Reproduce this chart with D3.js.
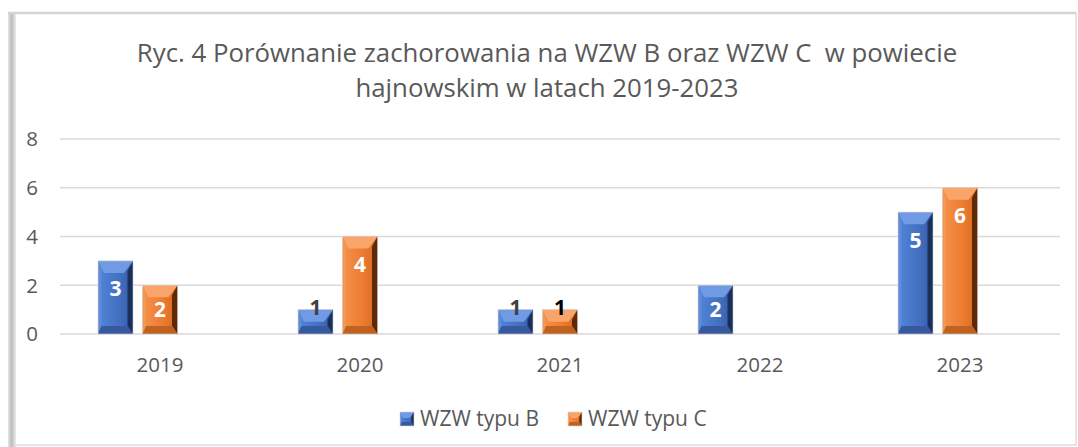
<html><head>
<title>Ryc. 4 WZW B i C</title>
<script src="https://d3js.org/d3.v7.min.js"></script>
<style>
  body { margin: 0; background: #fff; }
  text { font-family: "Open Sans", sans-serif; }
</style>
</head>
<body>
<svg id="chart" width="1078" height="447"></svg>
<script>

// data
const years = ["2019", "2020", "2021", "2022", "2023"];
const series = ["WZW typu B", "WZW typu C", "(pusta)"];   // third series is empty in the original
const wzwB = [3, 1, 1, 2, 5];
const wzwC = [2, 4, 1, null, 6];
const wzwEmpty = [null, null, null, null, null];
const yTicks = [0, 2, 4, 6, 8];
const titleLines = ["Ryc. 4 Porównanie zachorowania na WZW B oraz WZW C  w powiecie",
                    "hajnowskim w latach 2019-2023"];

const values = [wzwB, wzwC, wzwEmpty];

// colours for the bevelled bars
const palette = [
  { face: ["#5384d8", "#4472c4", "#345ca6"], top: "#709ae4", left: "#5f8bdb", right: "#1a2f5c", bottom: "#35599c", label: "#404040" },
  { face: ["#f4914c", "#ed7d31", "#d56a22"], top: "#f9a56a", left: "#f59652", right: "#5e2a06", bottom: "#c0621f", label: "#000" },
  { face: ["#a5a5a5", "#a5a5a5", "#a5a5a5"], top: "#ccc", left: "#bbb", right: "#666", bottom: "#888", label: "#000" }
];

const svg = d3.select("#chart");
const margin = {top: 139, left: 60, right: 18, bottom: 113};
const width = +svg.attr("width");
const height = +svg.attr("height");
const plotW = width - margin.left - margin.right;   // 1000
const plotH = height - margin.top - margin.bottom;  // 195

// gradients
const defs = svg.append("defs");
palette.forEach((p, i) => {
  let g = defs.append("linearGradient").attr("id", "face" + i)
    .attr("x1", 0).attr("x2", 1).attr("y1", 0).attr("y2", 0);
  g.append("stop").attr("offset", "0%").attr("stop-color", p.face[0]);
  g.append("stop").attr("offset", "55%").attr("stop-color", p.face[1]);
  g.append("stop").attr("offset", "100%").attr("stop-color", p.face[2]);
});
let sh = defs.append("linearGradient").attr("id", "frameShadow")
  .attr("x1", 0).attr("x2", 1).attr("y1", 0).attr("y2", 0);
sh.append("stop").attr("offset", "0%").attr("stop-color", "#e6e6e6");
sh.append("stop").attr("offset", "45%").attr("stop-color", "#bdbdbd");
sh.append("stop").attr("offset", "100%").attr("stop-color", "#ececec");

// frame around the picture
svg.append("rect")
  .attr("x", 12).attr("y", 13).attr("width", 1064).attr("height", 432)
  .attr("fill", "#fff").attr("stroke", "#dcdcdc").attr("stroke-width", 1.5);
svg.append("rect")
  .attr("x", 8).attr("y", 13).attr("width", 8).attr("height", 434)
  .attr("fill", "url(#frameShadow)");
svg.append("line")
  .attr("x1", 8).attr("x2", 1076).attr("y1", 13).attr("y2", 13)
  .attr("stroke", "#d4d4d4").attr("stroke-width", 2.5);

// title
svg.append("text")
  .attr("class", "title")
  .attr("xml:space", "preserve")
  .attr("text-anchor", "middle")
  .style("font-size", "25.8px").style("fill", "#595959")
  .selectAll("tspan").data(titleLines).join("tspan")
    .attr("x", 547).attr("y", (d, i) => 62 + i * 35)
    .text(d => d);

// scales
const x = d3.scaleBand().domain(years).range([0, plotW]).padding(0);
const xInner = d3.scaleBand().domain(series).range([38, 162]).paddingInner(0.213).paddingOuter(0);
const y = d3.scaleLinear().domain([0, 8]).range([plotH, 0]);

const chart = svg.append("g")
  .attr("transform", "translate(" + margin.left + "," + margin.top + ")");

// gridlines
chart.append("g").attr("class", "gridlines")
  .selectAll("line").data(yTicks).join("line")
    .attr("x1", 0).attr("x2", plotW)
    .attr("y1", d => y(d)).attr("y2", d => y(d))
    .attr("stroke", "#d9d9d9").attr("stroke-width", 1.5);

// y axis labels
chart.append("g")
  .selectAll("text").data(yTicks).join("text")
    .attr("x", -22).attr("y", d => y(d))
    .attr("dy", "0.36em")
    .attr("text-anchor", "end")
    .style("font-size", "20.5px").style("fill", "#595959")
    .text(d => d);

// x axis labels
chart.append("g")
  .selectAll("text").data(years).join("text")
    .attr("x", d => x(d) + x.bandwidth() / 2)
    .attr("y", plotH + 38)
    .attr("text-anchor", "middle")
    .style("font-size", "20.5px").style("fill", "#595959")
    .text(d => d);

// draws one bevelled bar into a group
function bevelBar(g, x0, y0, w, h, p, idx, bev) {
  const b = Math.min(bev, h / 2, w / 2);
  const x1 = x0 + w, y1 = y0 + h;
  g.append("rect").attr("x", x0).attr("y", y0).attr("width", w).attr("height", h)
    .attr("fill", "url(#face" + idx + ")");
  const poly = (pts, c) => g.append("polygon")
    .attr("points", pts.map(q => q.join(",")).join(" ")).attr("fill", c);
  poly([[x0, y0], [x1, y0], [x1 - b * 0.9, y0 + b * 1.2], [x0 + b * 0.6, y0 + b * 1.2]], p.top);
  poly([[x0, y0], [x0 + b * 0.35, y0 + b], [x0 + b * 0.35, y1 - b * 0.8], [x0, y1]], p.left);
  poly([[x1, y0], [x1 - b * 0.55, y0 + b], [x1 - b * 0.55, y1 - b * 0.8], [x1, y1]], p.right);
  poly([[x0, y1], [x1, y1], [x1 - b * 0.55, y1 - b * 0.8], [x0 + b * 0.35, y1 - b * 0.8]], p.bottom);
  g.append("rect").attr("x", x0).attr("y", y0).attr("width", w).attr("height", h)
    .attr("fill", "none").attr("stroke", "#d6d6d6").attr("stroke-width", 0.6);
}

// bars
const bars = [];
series.forEach((s, si) => {
  values[si].forEach((v, i) => {
    if (v !== null) bars.push({ series: s, si: si, year: years[i], value: v });
  });
});

const barGroups = chart.append("g").attr("class", "bars")
  .selectAll("g").data(bars).join("g");

barGroups.each(function(d) {
  const g = d3.select(this);
  const bx = x(d.year) + xInner(d.series);
  const by = y(d.value);
  const bh = y(0) - y(d.value);
  bevelBar(g, bx, by, xInner.bandwidth(), bh, palette[d.si], d.si, 10);

  // label: inside end, or sitting on the top edge for very short bars
  const small = bh < 30;
  const cy = small ? by - 2 : Math.min(by + 28, by + bh / 2);
  g.append("text")
    .attr("x", bx + xInner.bandwidth() / 2)
    .attr("y", cy).attr("dy", "0.36em")
    .attr("text-anchor", "middle")
    .style("font-size", "21px").style("font-weight", "bold")
    .style("fill", small ? palette[d.si].label : "#fff")
    .text(d.value);
});

// legend (only the two visible series)
const legend = svg.append("g").attr("class", "legend");
const legendX = [400, 568];
series.slice(0, 2).forEach((s, i) => {
  const lg = legend.append("g");
  bevelBar(lg, legendX[i], 412, 14, 14, palette[i], i, 5);
  lg.append("text")
    .attr("x", legendX[i] + 20).attr("y", 426)
    .style("font-size", "21px").style("fill", "#595959")
    .text(s);
});

</script>
</body>
</html>
